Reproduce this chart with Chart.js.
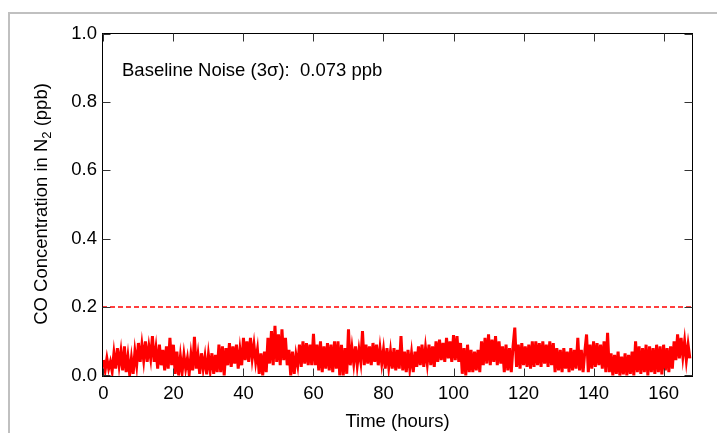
<!DOCTYPE html>
<html lang="en">
<head>
<meta charset="UTF-8">
<title>CO Baseline Noise</title>
<script src="https://cdn.jsdelivr.net/npm/chart.js@4.4.0/dist/chart.umd.min.js"></script>
<style>
  html, body { margin: 0; padding: 0; background: #fff; }
</style>
</head>
<body>
<canvas id="myChart" width="717" height="433"></canvas>
<script>
// CO concentration (ppb), one reading every half hour starting at t = 0
const sampleStep = 0.5
const coValues = [
  // 0 - 9.5 h
  0.045,0.015,0.05,0.02,0.04,0.012,0.065,0.02,0.08,0.03,0.07,0.015,0.085,0.01,0.055,0.003,0.05,0.005,0.07,0.03,
  // 10 - 19.5 h
  0.095,0.04,0.09,0.045,0.1,0.04,0.085,0.05,0.115,0.04,0.08,0.02,0.09,0.03,0.075,0.015,0.085,0.02,0.11,0.03,
  // 20 - 29.5 h
  0.09,0.005,0.07,0,0.055,0.01,0.06,0.02,0.05,0.005,0.06,0.015,0.113,0.02,0.06,0.005,0.065,0.02,0.055,0.003,
  // 30 - 39.5 h
  0.06,0.015,0.065,0.005,0.06,0.01,0.09,0.01,0.085,0,0.08,0.03,0.095,0.025,0.085,0.035,0.09,0.02,0.075,0.03,
  // 40 - 49.5 h
  0.11,0.045,0.1,0.04,0.11,0.05,0.09,0.04,0.075,0.005,0.065,0,0.07,0.01,0.11,0.035,0.13,0.03,0.145,0.04,
  // 50 - 59.5 h
  0.12,0.03,0.135,0.045,0.11,0.03,0.075,0,0.07,0.005,0.06,0.03,0.09,0.025,0.1,0.035,0.095,0.03,0.09,0.03,
  // 60 - 69.5 h
  0.122,0.03,0.09,0.015,0.1,0.01,0.085,0.02,0.095,0.015,0.09,0.01,0.1,0.02,0.1,0,0.09,0,0.08,0.005,
  // 70 - 79.5 h
  0.135,0.03,0.08,0.035,0.085,0.03,0.075,0.04,0.13,0.03,0.09,0.035,0.085,0.03,0.095,0.04,0.09,0.03,0.08,0.035,
  // 80 - 89.5 h
  0.075,0.02,0.08,0.025,0.07,0.02,0.08,0.015,0.075,0.02,0.115,0.015,0.07,0.01,0.075,0.02,0.065,0.01,0.07,0.025,
  // 90 - 99.5 h
  0.085,0.03,0.09,0.025,0.08,0.035,0.09,0.03,0.085,0.025,0.1,0.04,0.105,0.045,0.095,0.04,0.11,0.05,0.1,0.04,
  // 100 - 109.5 h
  0.118,0.045,0.115,0.04,0.095,0.005,0.08,0,0.09,0.01,0.075,0.01,0.07,0.015,0.075,0.01,0.1,0.03,0.11,0.035,
  // 110 - 119.5 h
  0.12,0.03,0.105,0.04,0.115,0.03,0.1,0.035,0.085,0.01,0.09,0.015,0.08,0.01,0.085,0.14,0.025,0.09,0.02,0.095,
  // 120 - 129.5 h
  0.03,0.085,0.025,0.09,0.02,0.1,0.025,0.1,0.03,0.095,0.025,0.1,0.035,0.09,0.025,0.1,0.03,0.095,0.01,0.08,
  // 130 - 139.5 h
  0.015,0.075,0.01,0.08,0.02,0.07,0.01,0.08,0.015,0.075,0.02,0.11,0.015,0.075,0.01,0.07,0.12,0.01,0.09,0.02,
  // 140 - 149.5 h
  0.1,0.025,0.095,0.03,0.09,0.02,0.1,0.01,0.125,0.01,0.065,0,0.06,0.005,0.07,0,0.055,0.003,0.065,0,
  // 150 - 159.5 h
  0.06,0.005,0.07,0,0.1,0.01,0.085,0.005,0.08,0.01,0.09,0,0.085,0.01,0.08,0.005,0.09,0.01,0.085,0.003,
  // 160 - 167.5 h
  0.09,0.015,0.08,0.01,0.085,0.02,0.1,0.045,0.12,0.05,0.11,0.055,0.1,0.045,0.09,0.05
]
const thresholdValue = 0.2
const xTickValues = [0, 20, 40, 60, 80, 100, 120, 140, 160]
const yTickValues = [0, 0.2, 0.4, 0.6, 0.8, 1.0]
const noiseLabel = 'Baseline Noise (3\u03c3):  0.073 ppb'

const xMin = -0.4, xMax = 168.4
const yMin = -0.0044, yMax = 1.0015
const fontFamily = '"Liberation Sans", Arial, Helvetica, sans-serif'
const fontSize = 18.5
const labelFont = { family: fontFamily, size: fontSize }

var seriesPoints = coValues.map((v, i) => ({ x: i * sampleStep, y: v }))
var thresholdPoints = [{ x: xMin, y: thresholdValue }, { x: xMax, y: thresholdValue }]

// frame, axis box, inside ticks, y title with subscript, annotation
const decorations = {
    id: 'decorations',
    beforeDraw(chart) {
        const ctx = chart.ctx
        ctx.save()
        ctx.strokeStyle = '#c0c0c0'
        ctx.lineWidth = 2
        ctx.beginPath()
        ctx.moveTo(9, 433)
        ctx.lineTo(9, 13)
        ctx.lineTo(717, 13)
        ctx.stroke()
        ctx.restore()
    },
    afterDraw(chart) {
        const ctx = chart.ctx
        const a = chart.chartArea
        const x = chart.scales.x
        const y = chart.scales.y
        const L = Math.round(a.left) + 0.5, R = Math.round(a.right) - 0.5
        const T = Math.round(a.top) + 0.5, B = Math.round(a.bottom) - 0.5
        ctx.save()
        ctx.strokeStyle = '#000'
        ctx.lineWidth = 1
        ctx.strokeRect(L, T, R - L, B - T)

        const tl = 8
        ctx.strokeStyle = '#333'
        ctx.beginPath()
        y.ticks.forEach(t => {
            const py = Math.round(y.getPixelForValue(t.value)) + 0.5
            ctx.moveTo(L, py); ctx.lineTo(L + tl, py)
            ctx.moveTo(R, py); ctx.lineTo(R - tl, py)
        })
        x.ticks.forEach(t => {
            const px = Math.round(x.getPixelForValue(t.value)) + 0.5
            ctx.moveTo(px, B); ctx.lineTo(px, B - tl)
            ctx.moveTo(px, T); ctx.lineTo(px, T + tl)
        })
        ctx.stroke()

        // y axis title: CO Concentration in N2 (ppb)
        ctx.fillStyle = '#000'
        ctx.translate(47, 204)
        ctx.rotate(-Math.PI / 2)
        const main = fontSize + 'px ' + fontFamily, small = '13px ' + fontFamily
        const p1 = 'CO Concentration in N', p2 = '2', p3 = ' (ppb)'
        ctx.font = main
        const w1 = ctx.measureText(p1).width, w3 = ctx.measureText(p3).width
        ctx.font = small
        const w2 = ctx.measureText(p2).width
        let sx = -(w1 + w2 + w3) / 2
        ctx.textBaseline = 'alphabetic'
        ctx.textAlign = 'left'
        ctx.font = main
        ctx.fillText(p1, sx, 0)
        ctx.font = small
        ctx.fillText(p2, sx + w1, 4)
        ctx.font = main
        ctx.fillText(p3, sx + w1 + w2, 0)
        ctx.setTransform(1, 0, 0, 1, 0, 0)

        // annotation
        ctx.font = main
        ctx.fillText(noiseLabel, 122, 76)
        ctx.restore()
    }
}

var ctx = document.getElementById('myChart').getContext('2d')
window.chart = new Chart(ctx, {
    type: 'line',
    data: {
        datasets: [{
            label: 'CO',
            data: seriesPoints,
            borderColor: '#ff0000',
            borderWidth: 3,
            pointRadius: 0,
            tension: 0
        }, {
            label: 'limit',
            data: thresholdPoints,
            borderColor: '#ff0000',
            borderWidth: 1.5,
            borderDash: [5, 3],
            pointRadius: 0
        }]
    },
    options: {
        responsive: false,
        animation: false,
        devicePixelRatio: 1,
        layout: { padding: { top: 33, right: 24, left: 0, bottom: 0 } },
        plugins: { legend: { display: false }, tooltip: { enabled: false } },
        scales: {
            x: {
                type: 'linear',
                min: xMin,
                max: xMax,
                afterBuildTicks: s => { s.ticks = xTickValues.map(v => ({ value: v })) },
                afterFit: s => { s.height = 56 },
                grid: { display: false, drawTicks: false },
                border: { display: false },
                ticks: { font: labelFont, color: '#000', padding: 6, maxRotation: 0, autoSkip: false },
                title: { display: true, text: 'Time (hours)', font: labelFont, color: '#000', padding: 0 }
            },
            y: {
                type: 'linear',
                min: yMin,
                max: yMax,
                afterBuildTicks: s => { s.ticks = yTickValues.map(v => ({ value: v })) },
                afterFit: s => { s.width = 102 },
                grid: { display: false, drawTicks: false },
                border: { display: false },
                ticks: { font: labelFont, color: '#000', padding: 5, callback: v => v.toFixed(1) }
            }
        }
    },
    plugins: [decorations]
})
</script>
</body>
</html>
